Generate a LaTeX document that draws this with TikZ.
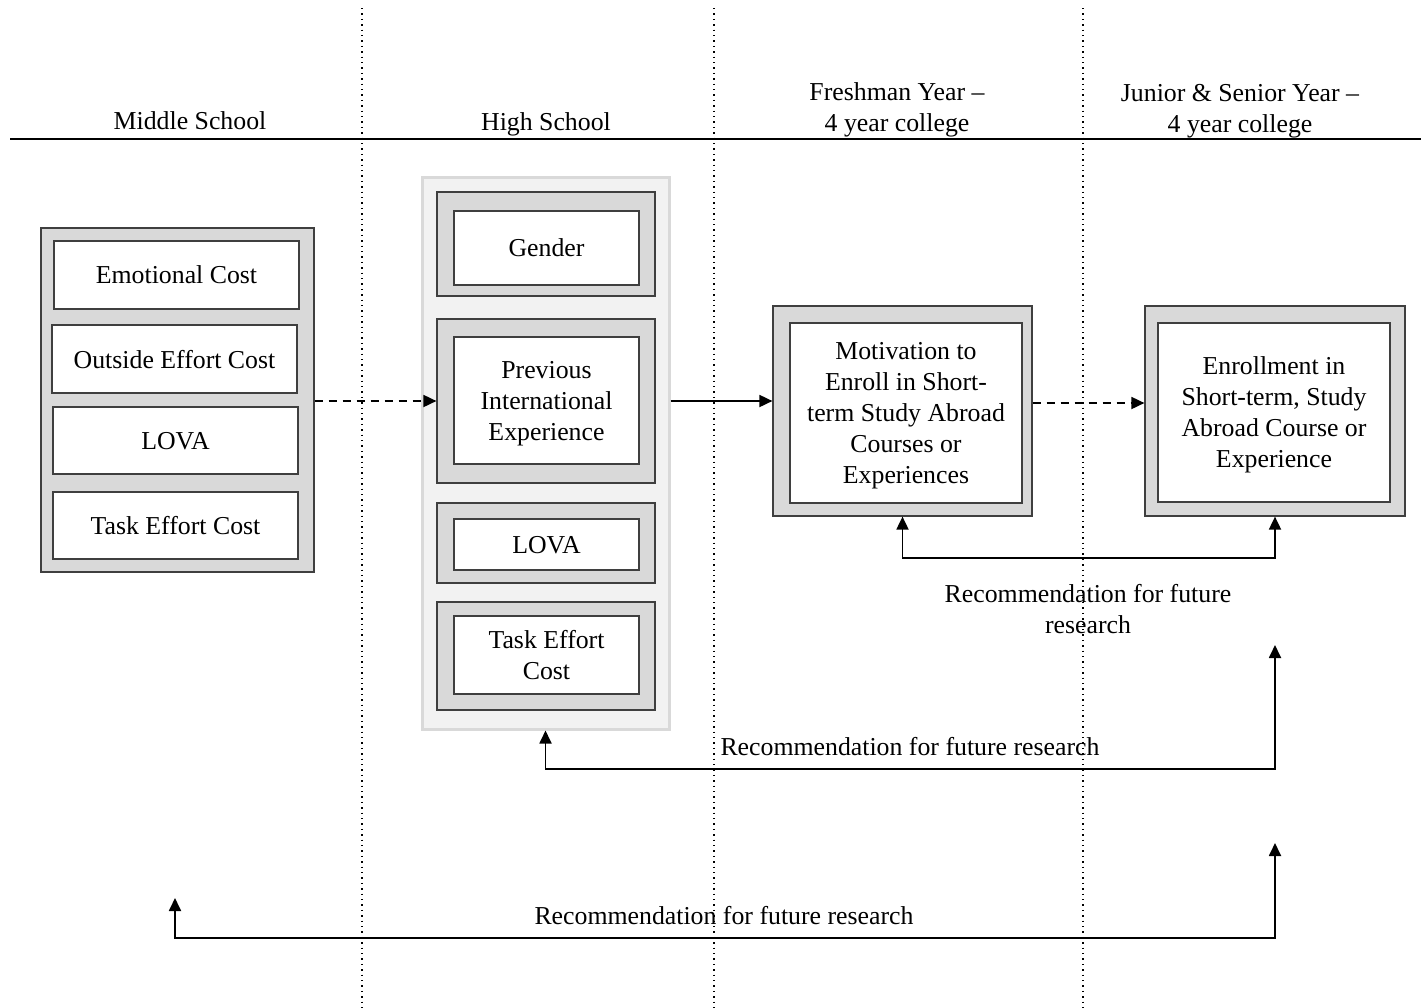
\documentclass[tikz,border=0pt]{standalone}
\usepackage{fontspec}
\setmainfont{Liberation Serif}
\usetikzlibrary{arrows.meta,positioning}
\definecolor{boxgray}{HTML}{D9D9D9}
\definecolor{panelgray}{HTML}{F2F2F2}
\definecolor{edgegray}{HTML}{3F3F3F}
\tikzstyle{outerbox}=[draw=edgegray,fill=boxgray,line width=0.6pt,inner sep=0pt]
\tikzstyle{innerbox}=[draw=edgegray,fill=white,line width=0.6pt,inner sep=0pt,align=center,text depth=0pt]
\tikzstyle{panel}=[draw=boxgray,fill=panelgray,line width=1.5pt,inner sep=0pt]
\tikzstyle{post}=[-{Triangle[length=6.5pt,width=6pt]},line width=0.9pt]
\tikzstyle{feedback}=[{Triangle[length=6.5pt,width=6pt]}-{Triangle[length=6.5pt,width=6pt]},line width=0.9pt]
\tikzstyle{dashy}=[dash pattern=on 4pt off 3pt]
\tikzstyle{divider}=[dotted,line width=0.7pt]

\begin{document}
\begin{tikzpicture}[x=0.5pt,y=-0.5pt,font=\fontsize{12.9}{15.5}\selectfont]
\useasboundingbox (0,0) rectangle (1421,1008);

% time line and columns
\draw[line width=1pt] (10,139) -- (1421,139);
\foreach \x in {362,714,1083}
  \draw[divider] (\x,8) -- (\x,1008);
\node (hdms) at (190,121) {Middle School};
\node (hdhs) at (546,124) {High School};
\node (hdfy) at (897,110) [align=center] {Freshman Year –\\4 year college};
\node (hdjs) at (1240,111) [align=center] {Junior \& Senior Year –\\4 year college};

% middle school
\node (msbox) [outerbox, minimum width=136.5pt, minimum height=172pt] at (177.5,400) {};
\node (emo) [innerbox, minimum width=122.5pt, minimum height=34pt] at (176.5,275) {Emotional Cost};
\node (outside) [innerbox, minimum width=122.5pt, minimum height=34pt] at (174.5,359) {Outside Effort Cost};
\node (mslova) [innerbox, minimum width=122.5pt, minimum height=33.5pt] at (175.5,440.5) {LOVA};
\node (mstask) [innerbox, minimum width=122.5pt, minimum height=33.5pt] at (175.5,525.5) {Task Effort Cost};

% high school
\node (hsbox) [panel, minimum width=123.5pt, minimum height=276pt] at (545.5,453) {};
\node (genderout) [outerbox, minimum width=109pt, minimum height=52pt] at (546,244) {};
\node (gender) [innerbox, minimum width=92.5pt, minimum height=37pt] at (546.5,248) {Gender};
\node (prevout) [outerbox, minimum width=109pt, minimum height=82pt] at (546,401) {};
\node (prev) [innerbox, minimum width=92.5pt, minimum height=63.5pt] at (546.5,400.5) {Previous\\International\\Experience};
\node (lovaout) [outerbox, minimum width=109pt, minimum height=40pt] at (546,543) {};
\node (lova) [innerbox, minimum width=92.5pt, minimum height=25.5pt] at (546.5,544.5) {LOVA};
\node (taskout) [outerbox, minimum width=109pt, minimum height=54pt] at (546,656) {};
\node (task) [innerbox, minimum width=92.5pt, minimum height=39pt] at (546.5,655) {Task Effort\\Cost};

% college
\node (motout) [outerbox, minimum width=129.5pt, minimum height=105pt] at (902.5,411) {};
\node (mot) [innerbox, minimum width=116pt, minimum height=90pt] at (906,413) {Motivation to\\Enroll in Short-\\term Study Abroad\\Courses or\\Experiences};
\node (enrout) [outerbox, minimum width=130pt, minimum height=105pt] at (1275,411) {};
\node (enr) [innerbox, minimum width=116pt, minimum height=89.5pt] at (1274,412.5) {Enrollment in\\Short-term, Study\\Abroad Course or\\Experience};

\draw[post,dashy] (msbox.east |- prevout.west) -- (prevout.west);
\draw[post] (hsbox.east |- prevout.east) -- (motout.west |- prevout.east);
\draw[post,dashy] ([yshift=4pt]motout.east) -- ([yshift=4pt]enrout.west);

% recommendations
\draw[feedback] (motout.south) -- ++(0,41) -| (enrout.south);
\node (rec1) at (1088,609) [align=center] {Recommendation for future\\research};

\coordinate (fb2a) at (1275,645);
\coordinate (fb2b) at (1275,769);
\draw[feedback] (fb2a) -- (fb2b) -| (hsbox.south);
\node (rec2) at (910,747) {Recommendation for future research};

\coordinate (fb3a) at (1275,843);
\coordinate (fb3b) at (1275,938);
\coordinate (fb3c) at (175,898);
\draw[feedback] (fb3a) -- (fb3b) -| (fb3c);
\node (rec3) at (724,916) {Recommendation for future research};
\end{tikzpicture}
\end{document}
